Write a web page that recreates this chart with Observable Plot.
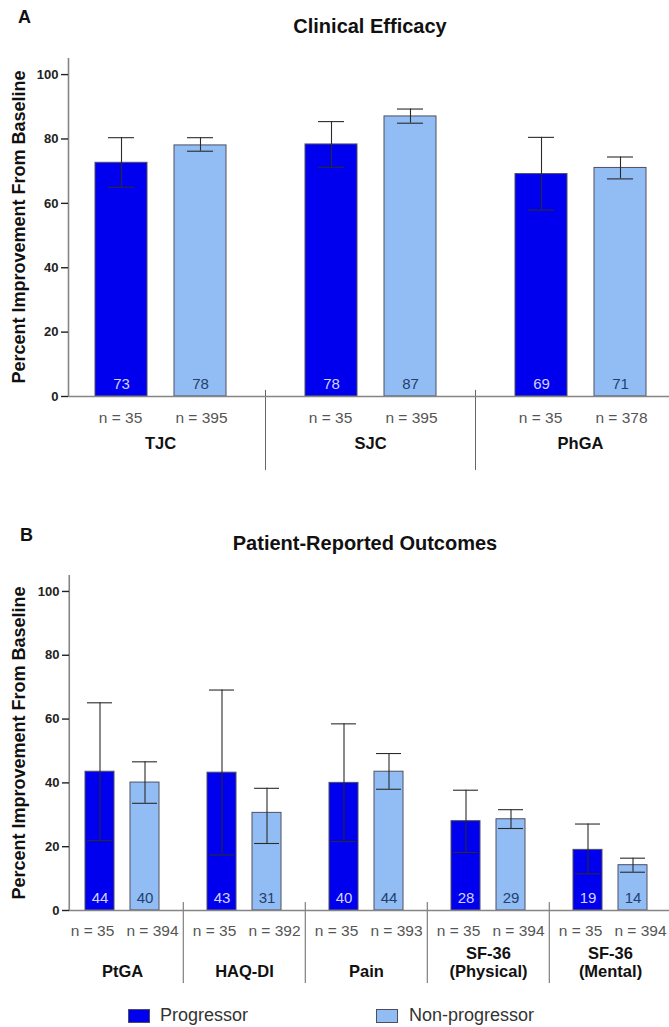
<!DOCTYPE html>
<html><head><meta charset="utf-8">
<script src="https://cdn.jsdelivr.net/npm/d3@7"></script>
<script src="https://cdn.jsdelivr.net/npm/@observablehq/plot@0.6"></script>
<style>
html,body{margin:0;padding:0;background:#fff;}
body{width:669px;height:1027px;overflow:hidden;position:relative;font-family:"Liberation Sans",Arial,Helvetica,sans-serif;color:#111;}
.abs{position:absolute;white-space:nowrap;line-height:1;}
.title{font-weight:bold;font-size:20px;transform:translateX(-50%);}
.letter{font-weight:bold;font-size:18px;}
.ylab{font-weight:bold;font-size:18px;transform:translate(-50%,-50%) rotate(-90deg);}
.sw{position:absolute;width:20px;height:12px;border:1px solid #4d4d5e;}
.leg{font-size:18px;color:#333;}
</style></head><body>
<script>
// ---------- data ----------
const statuses = ["Progressor", "Non-progressor"];

const groupsA = ["TJC", "SJC", "PhGA"];
const progMeanA = [72.6, 78.3, 69.1];
const progLowA  = [65.0, 71.2, 57.9];
const progHighA = [80.4, 85.4, 80.5];
const progNA    = [35, 35, 35];
const nonMeanA  = [78.0, 87.0, 71.0];
const nonLowA   = [76.2, 84.9, 67.6];
const nonHighA  = [80.4, 89.3, 74.4];
const nonNA     = [395, 395, 378];

const groupsB = ["PtGA", "HAQ-DI", "Pain", "SF-36\n(Physical)", "SF-36\n(Mental)"];
const progMeanB = [43.5, 43.2, 40.0, 28.0, 19.0];
const progLowB  = [21.9, 17.4, 21.6, 18.2, 11.5];
const progHighB = [65.1, 69.1, 58.5, 37.7, 27.1];
const progNB    = [35, 35, 35, 35, 35];
const nonMeanB  = [40.1, 30.6, 43.5, 28.6, 14.2];
const nonLowB   = [33.6, 21.0, 38.0, 25.7, 12.0];
const nonHighB  = [46.6, 38.3, 49.2, 31.6, 16.4];
const nonNB     = [394, 392, 393, 394, 394];

const yTicks = [0, 20, 40, 60, 80, 100];
const titleA = "Clinical Efficacy";
const titleB = "Patient-Reported Outcomes";
const yLabel = "Percent Improvement From Baseline";

// ---------- styles ----------
const barColors = ["#0000ee", "#92bdf4"];
const FONT = "Liberation Sans, Arial, Helvetica, sans-serif";
const AXIS = "#858585";

function rowsOf(groups, pm, pl, ph, pn, nm, nl, nh, nn) {
  const rows = [];
  groups.forEach((g, i) => {
    rows.push({group: g, status: statuses[0], mean: pm[i], low: pl[i], high: ph[i], n: pn[i]});
    rows.push({group: g, status: statuses[1], mean: nm[i], low: nl[i], high: nh[i], n: nn[i]});
  });
  return rows;
}

function panel(groups, rows, L) {
  const fw = L.facetWidth;
  const prog = rows.filter(d => d.status === statuses[0]);
  const non = rows.filter(d => d.status === statuses[1]);
  const common = {fx: "group", x: "status"};
  return Plot.plot({
    width: L.width, height: L.height,
    marginLeft: L.marginLeft, marginRight: L.marginRight,
    marginTop: L.marginTop, marginBottom: L.marginBottom,
    facet: {marginTop: 0, marginBottom: 0, marginLeft: 0, marginRight: 0},
    style: {fontFamily: FONT, background: "transparent", overflow: "visible", maxWidth: "none"},
    fx: {domain: groups, padding: 0, axis: null, label: null},
    x: {domain: statuses, paddingInner: 0.347, paddingOuter: 0.5, axis: null, label: null},
    y: {domain: [0, 105], axis: null, label: null},
    color: {domain: statuses, range: barColors},
    marks: [
      // divider lines below the axis between groups
      Plot.ruleX(groups.slice(1), {fx: d => d, x: null, y1: () => L.divTop, y2: () => L.divBottom, dx: -fw / 2, stroke: "#666", strokeWidth: 1}),
      Plot.barY(rows, {...common, y: "mean", fill: "status", stroke: "#4f4f60", strokeWidth: 1}),
      Plot.ruleX(rows, {...common, y1: "low", y2: "high", stroke: "#2a2a2a", strokeWidth: 1.1}),
      Plot.tickY(rows, {...common, y: "high", insetLeft: L.capInset, insetRight: L.capInset, stroke: "#2a2a2a", strokeWidth: 1.1}),
      Plot.tickY(rows, {...common, y: "low", insetLeft: L.capInset, insetRight: L.capInset, stroke: "#2a2a2a", strokeWidth: 1.1}),
      // baseline (x axis)
      Plot.ruleY([groups[0]], {fx: d => d, y: () => 0, insetLeft: L.axisOffset, stroke: AXIS, strokeWidth: 1.6}),
      Plot.ruleY(groups.slice(1), {fx: d => d, y: () => 0, stroke: AXIS, strokeWidth: 1.6}),
      // y axis line
      Plot.ruleX([groups[0]], {fx: d => d, x: null, y1: () => 0, y2: () => 105, dx: L.axisOffset - fw / 2, stroke: AXIS, strokeWidth: 1.6}),
      Plot.axisY(yTicks, {anchor: "left", dx: L.axisOffset, tickSize: 7, tickPadding: 3, fontSize: 13, fontWeight: "bold", color: "#222", label: null, strokeWidth: 1.4}),
      // value labels inside bars
      Plot.text(prog, {...common, y: () => 0, text: d => String(Math.round(d.mean)), dy: -12, fill: "#d2d2ff", fontSize: 15}),
      Plot.text(non, {...common, y: () => 0, text: d => String(Math.round(d.mean)), dy: -12, fill: "#223f6e", fontSize: 15}),
      // n labels
      Plot.text(prog, {...common, y: () => 0, text: d => `n = ${d.n}`, dy: L.nDy, dx: -L.nSpread, fill: "#555", fontSize: 15.5}),
      Plot.text(non, {...common, y: () => 0, text: d => `n = ${d.n}`, dy: L.nDy, dx: L.nSpread, fill: "#555", fontSize: 15.5}),
      // group labels
      Plot.text(groups, {fx: d => d, text: d => d, frameAnchor: "bottom", lineAnchor: "bottom", dy: L.groupDy, fontSize: 16.5, fontWeight: "bold", fill: "#111", lineHeight: 1.06})
    ]
  });
}

const rowsA = rowsOf(groupsA, progMeanA, progLowA, progHighA, progNA, nonMeanA, nonLowA, nonHighA, nonNA);
const rowsB = rowsOf(groupsB, progMeanB, progLowB, progHighB, progNB, nonMeanB, nonLowB, nonHighB, nonNB);

const A = panel(groupsA, rowsA, {
  width: 685, height: 440, marginLeft: 55, marginRight: 0, marginTop: 8, marginBottom: 94,
  facetWidth: 210, axisOffset: 13, capInset: 13, nDy: 21.5, nSpread: 1, groupDy: 52,
  divTop: 1.9, divBottom: -23
});
const B = panel(groupsB, rowsB, {
  width: 685, height: 440, marginLeft: 60, marginRight: 12.5, marginTop: 15, marginBottom: 90,
  facetWidth: 122.5, axisOffset: 8, capInset: 2, nDy: 21, nSpread: 7.5, groupDy: 66,
  divTop: 2.5, divBottom: -22.9
});

function place(el, left, top) {
  el.style.position = "absolute"; el.style.left = left + "px"; el.style.top = top + "px";
  el.style.maxWidth = "none";
  el.style.width = el.getAttribute("width") + "px";
  el.style.height = el.getAttribute("height") + "px";
  document.body.appendChild(el);
}
function div(cls, text, left, top) {
  const d = document.createElement("div");
  d.className = "abs " + cls; d.textContent = text;
  d.style.left = left + "px"; d.style.top = top + "px";
  document.body.appendChild(d);
  return d;
}

place(A, 0, 50);
place(B, 0, 560);

div("letter", "A", 18, 8);
div("letter", "B", 20, 526);
div("title", titleA, 370, 16);
div("title", titleB, 365, 533);
div("ylab", yLabel, 18.5, 227);
div("ylab", yLabel, 18.5, 743);

// legend
const sw1 = document.createElement("div"); sw1.className = "sw"; sw1.style.left = "128px"; sw1.style.top = "1009px"; sw1.style.background = barColors[0]; document.body.appendChild(sw1);
const sw2 = document.createElement("div"); sw2.className = "sw"; sw2.style.left = "376px"; sw2.style.top = "1009px"; sw2.style.background = barColors[1]; document.body.appendChild(sw2);
div("leg", statuses[0], 160, 1006);
div("leg", statuses[1], 409, 1006);
</script>
</body></html>
